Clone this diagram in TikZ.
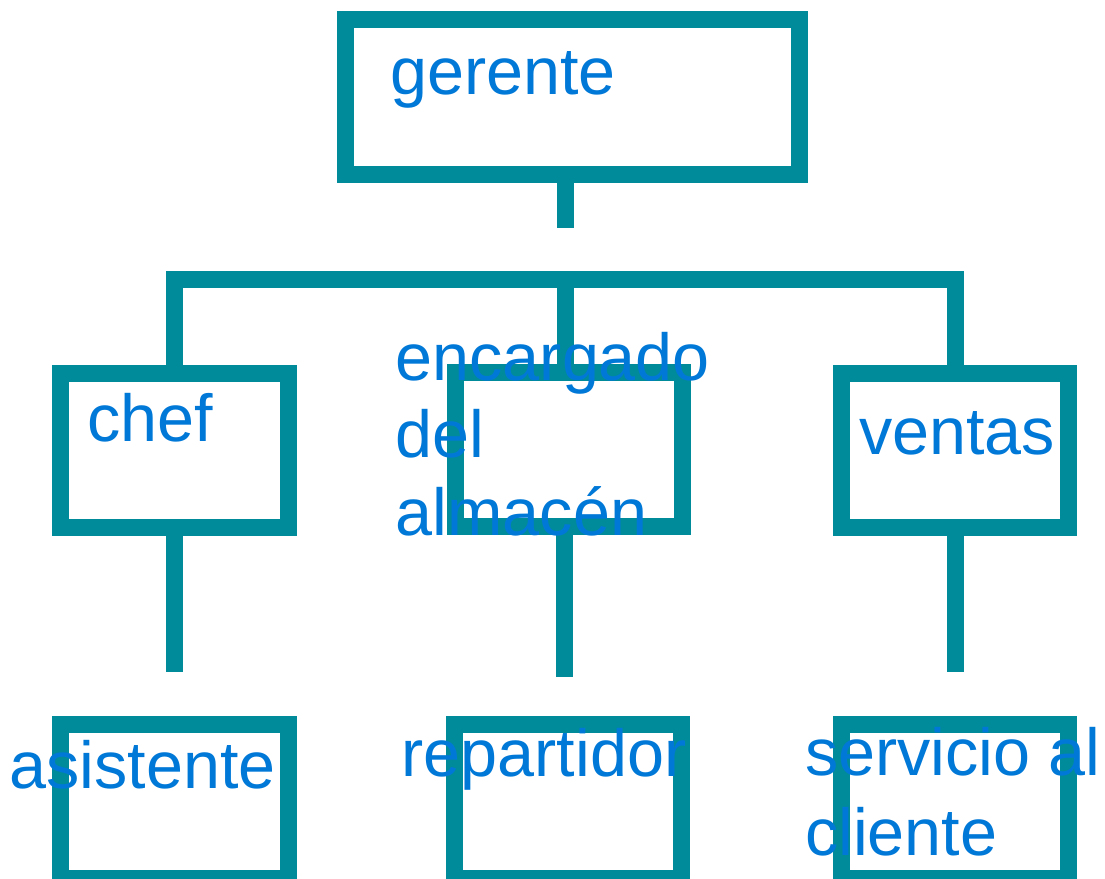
\documentclass[tikz,border=0pt]{standalone}
\usepackage{fontspec}
\setmainfont{Liberation Sans}
\definecolor{teal1}{RGB}{0,139,155}
\definecolor{txtblue}{RGB}{0,120,215}
\begin{document}
\begin{tikzpicture}[x=1bp,y=-1bp,
  box/.style={draw=teal1,line width=17bp,rectangle,inner sep=0pt,outer sep=0pt,
    minimum width=227bp,minimum height=154bp},
  conn/.style={draw=teal1,line width=17bp,line cap=butt,line join=miter},
  lbl/.style={text=txtblue,inner sep=0pt,anchor=base west,align=left,
    font=\fontsize{66.5bp}{77.5bp}\selectfont}]
\useasboundingbox (0,0) rectangle (1105,879);
% boxes
\node[box,minimum width=454bp,minimum height=154.5bp] (g) at (572.5,96.75) {};
\node[box] (chef) at (174.5,450) {};
\node[box] (mid) at (568.5,449.75) {};
\node[box] (ven) at (955,450.25) {};
\node[box] (asis) at (174.5,801.25) {};
\node[box] (rep) at (568,801.25) {};
\node[box] (serv) at (954.5,801.25) {};
% connector coordinates
\coordinate (gs) at (565,228);
\coordinate (bar) at (565,279);
\coordinate (cs) at (174.5,672);
\coordinate (ms) at (564.5,677);
\coordinate (vs) at (955,672);
% connectors
\draw[conn] (gs |- g.south) -- (gs);
\draw[conn] (chef.north) |- (bar) -| (ven.north);
\draw[conn] (bar) -- (bar |- mid.north);
\draw[conn] (cs |- chef.south) -- (cs);
\draw[conn] (ms |- mid.south) -- (ms);
\draw[conn] (vs |- ven.south) -- (vs);
% labels
\node[lbl] (tg) at (390,94) {gerente};
\node[lbl] (tc) at (87.5,441) {chef};
\node[lbl] (tm) at (395.5,535) {encargado\\del\\almacén};
\node[lbl] (tv) at (859,454) {ventas};
\node[lbl] (ta) at (9.5,788) {asistente};
\node[lbl] (tr) at (401.5,776) {repartidor};
\node[lbl,font=\fontsize{66.5bp}{80bp}\selectfont] (ts) at (805,855) {servicio al\\cliente};
\end{tikzpicture}
\end{document}
